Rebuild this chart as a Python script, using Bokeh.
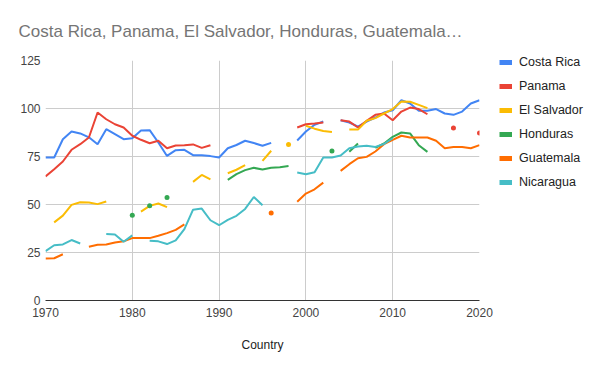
import math
from bokeh.plotting import figure
from bokeh.layouts import row
from bokeh.models import (Legend, LegendItem, FixedTicker, Title, Range1d)
from bokeh.embed import file_html
from bokeh.resources import INLINE

N = None
years = list(range(1970, 2021))

costa_rica = [74.5, 74.5, 84, 88, 87, 85, 81.4, 89.2, 86.6, 84,
              84.5, 88.5, 88.7, 82.3, 75.3, 78.3, 78.5, 75.7, 75.7, 75.2,
              74.5, 79.3, 81, 83.2, 82, 80.6, 82.1, N, N, 83.3,
              88, 91.5, 93.2, N, 93.9, 92.7, 90.6, 93.2, 95.3, 97.9,
              99.1, 104.3, 102.6, 98.8, 98.8, 99.7, 97.4, 96.7, 98.4, 102.6,
              104.3]
panama = [64.6, 68.4, 72.4, 78.5, 81.4, 84.9, 97.9, 94.4, 91.8, 90.1,
          85.8, 83.7, 81.9, 83.2, 79.3, 80.7, 80.9, 81.3, 79.5, 80.9,
          N, N, N, N, N, N, N, N, N, 90.1,
          91.8, 92.2, 92.7, N, 93.9, 93.2, 90.1, 93.6, 96.7, 97.4,
          93.9, 98.4, 100.5, 99.7, 97.0, N, N, 89.9, N, N,
          87.2]
el_salvador = [N, 40.7, 44.2, 49.8, 51.2, 51, 50.2, 51.6, N, N,
               N, 46.3, 49.3, 50.5, 48.6, N, N, 61.8, 65.4, 63.1,
               N, 66.3, 68.1, 70.5, N, 72.7, 78, N, 81.3, N,
               91, 89.5, 88.3, 87.8, N, 89, 89, 93.6, 95, 97.4,
               99.7, 103.6, 103.5, 101.9, 100.2, N, N, N, N, N,
               N]
honduras = [N, N, N, N, N, N, N, N, N, N,
            44.4, N, 49.3, N, 53.7, N, N, N, N, N,
            N, 62.8, 65.8, 67.9, 69.1, 68.2, 69.1, 69.4, 70.1, N,
            N, N, N, 77.8, N, 77.5, 81.8, N, 79.5, 81.8,
            85.2, 87.5, 87, 80.9, 77.4, N, N, N, N, N,
            N]
guatemala = [21.9, 22, 24.1, N, N, 28, 29, 29.2, 30.2, 30.8,
             32.5, 32.5, 32.5, 33.7, 35.1, 36.8, 39.6, N, N, N,
             N, N, N, N, N, N, 45.6, N, N, 51.4,
             55.7, 57.9, 61.4, N, 67.5, 71, 74.1, 74.8, 77.6, 81.4,
             83.7, 85.8, 84.9, 84.9, 84.9, 83.2, 79.3, 80, 80, 79.3,
             80.9]
nicaragua = [25.7, 28.8, 29.2, 31.5, 29.7, N, N, 34.6, 34.4, 30.6,
             33.9, N, 31.1, 30.8, 29.4, 31.3, 37.2, 47.3, 47.9, 41.8,
             39.2, 42, 44.1, 47.7, 53.9, 49.6, N, N, N, 66.7,
             65.8, 66.8, 74.5, 74.5, 75.5, 79.3, 80.2, 80.6, 80, 81.5,
             84.5, N, N, N, N, N, N, N, N, N,
             N]

series_names = ["Costa Rica", "Panama", "El Salvador", "Honduras", "Guatemala", "Nicaragua"]
series_values = [costa_rica, panama, el_salvador, honduras, guatemala, nicaragua]
colors = ["#4285F4", "#EA4335", "#FBBC04", "#34A853", "#FF6D01", "#46BDC6"]

x_ticks = [1970, 1980, 1990, 2000, 2010, 2020]
y_ticks = [0, 25, 50, 75, 100, 125]

FONT = "Liberation Sans"

p = figure(width=498, height=355, output_backend="svg", toolbar_location=None,
           x_range=Range1d(1970, 2020), y_range=Range1d(0, 125),
           min_border_left=45, min_border_right=19, min_border_top=60,
           min_border_bottom=55)
p.outline_line_color = None
p.frame_align = False

title = Title(text="Costa Rica, Panama, El Salvador, Honduras, Guatemala\u2026",
              text_font=FONT, text_font_size="17px", text_color="#757575",
              text_font_style="normal", align="left", offset=-27, standoff=39)
p.add_layout(title, "above")

p.xgrid.grid_line_color = "#cccccc"
p.ygrid.grid_line_color = "#cccccc"
p.xaxis.ticker = FixedTicker(ticks=x_ticks)
p.yaxis.ticker = FixedTicker(ticks=y_ticks)
p.xgrid.ticker = FixedTicker(ticks=x_ticks)
p.ygrid.ticker = FixedTicker(ticks=y_ticks)

for ax in (p.xaxis[0], p.yaxis[0]):
    ax.major_tick_line_color = None
    ax.minor_tick_line_color = None
    ax.major_tick_out = 0
    ax.major_label_text_font = FONT
    ax.major_label_text_font_size = "12px"
    ax.major_label_text_color = "#444444"
p.yaxis.axis_line_color = None
p.yaxis.major_label_standoff = 5
p.xaxis.axis_line_color = "#333333"
p.xaxis.axis_line_width = 1
p.xaxis.major_label_standoff = 7
p.xaxis.axis_label = "Country"
p.xaxis.axis_label_text_font = FONT
p.xaxis.axis_label_text_font_size = "12px"
p.xaxis.axis_label_text_font_style = "normal"
p.xaxis.axis_label_text_color = "#222222"
p.xaxis.axis_label_standoff = 18

# legend-only figure placed to the right of the chart
lf = figure(width=86, height=355, output_backend="svg", toolbar_location=None,
            x_range=Range1d(0, 1), y_range=Range1d(0, 1),
            min_border=0, min_border_left=0, min_border_right=0,
            min_border_top=0, min_border_bottom=0)
lf.axis.visible = False
lf.grid.visible = False
lf.outline_line_color = None
lf.frame_align = False

items = []
for name, vals, col in zip(series_names, series_values, colors):
    ys = [math.nan if v is None else v for v in vals]
    p.line(years, ys, line_color=col, line_width=2)
    # isolated points (no neighbours) drawn as dots
    iso_x, iso_y = [], []
    for i, v in enumerate(vals):
        if v is None:
            continue
        prev_ok = i > 0 and vals[i - 1] is not None
        next_ok = i < len(vals) - 1 and vals[i + 1] is not None
        if not prev_ok and not next_ok:
            iso_x.append(years[i])
            iso_y.append(v)
    if iso_x:
        p.scatter(iso_x, iso_y, size=5, color=col, line_color=None)
    leg_r = lf.line([math.nan], [math.nan], line_color=col, line_width=5)
    items.append(LegendItem(label=name, renderers=[leg_r]))

legend = Legend(items=items, location=(1, 163), padding=0, margin=0,
                border_line_color=None, background_fill_alpha=0,
                label_text_font=FONT, label_text_font_size="12.5px",
                label_text_color="#222222", glyph_width=13, glyph_height=20,
                label_height=20, label_standoff=7, spacing=4)
lf.add_layout(legend, "center")

layout = row(p, lf, spacing=0)
open("out.html", "w").write(file_html(layout, INLINE))
